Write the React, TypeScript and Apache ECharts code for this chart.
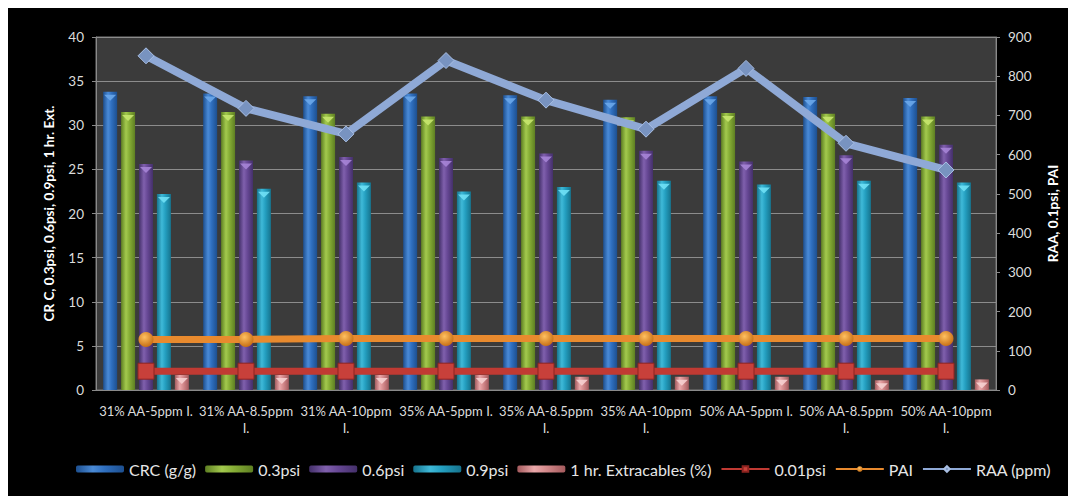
import React, { useEffect, useRef } from "react";
import * as echarts from "echarts";

// Samples and measured values
const categories = [
  "31% AA-5ppm I.",
  "31% AA-8.5ppm I.",
  "31% AA-10ppm I.",
  "35% AA-5ppm I.",
  "35% AA-8.5ppm I.",
  "35% AA-10ppm I.",
  "50% AA-5ppm I.",
  "50% AA-8.5ppm I.",
  "50% AA-10ppm I.",
];
const crc = [33.8, 33.6, 33.3, 33.6, 33.4, 32.9, 33.3, 33.2, 33.1];
const psi03 = [31.5, 31.5, 31.3, 31.0, 31.0, 30.9, 31.4, 31.3, 31.0];
const psi06 = [25.6, 26.0, 26.4, 26.3, 26.8, 27.1, 25.9, 26.6, 27.8];
const psi09 = [22.2, 22.8, 23.5, 22.5, 23.0, 23.7, 23.3, 23.7, 23.5];
const ext1hr = [1.7, 1.7, 1.7, 1.7, 1.5, 1.5, 1.5, 1.1, 1.2];
const psi001 = [48, 48, 48, 48, 48, 48, 48, 48, 48];
const pai = [129, 129, 131, 131, 131, 131, 131, 131, 131];
const raa = [852, 718, 653, 840, 739, 665, 820, 629, 561];

const leftTicks = { min: 0, max: 40, interval: 5 };
const rightTicks = { min: 0, max: 900, interval: 100 };

const FONT = "Lato, 'Liberation Sans', sans-serif";

// horizontal shading that gives each bar a rounded, cylinder look
const cyl = (dark: string, mid: string, light: string) =>
  new echarts.graphic.LinearGradient(0, 0, 1, 0, [
    { offset: 0, color: dark },
    { offset: 0.35, color: light },
    { offset: 0.6, color: mid },
    { offset: 1, color: dark },
  ]);

const barDefs = [
  { name: "CRC (g/g)", data: crc, c: ["#1d4f8f", "#2f6fbf", "#4a8ad6"], cap: "#6aa7ea" },
  { name: "0.3psi", data: psi03, c: ["#5e7f22", "#86ad36", "#a3c94e"], cap: "#c6e66e" },
  { name: "0.6psi", data: psi06, c: ["#44306a", "#674895", "#8060ad"], cap: "#a684d6" },
  { name: "0.9psi", data: psi09, c: ["#16738d", "#249fc0", "#3fb9d8"], cap: "#6fe0f5" },
  { name: "1 hr. Extracables (%)", data: ext1hr, c: ["#a45a5d", "#d48a8c", "#eaa8aa"], cap: "#f6d0d0" },
];

export default function App() {
  const ref = useRef<HTMLDivElement>(null);

  useEffect(() => {
    if (!ref.current) return;
    const chart = echarts.init(ref.current, undefined, { renderer: "svg" });

    const barSeries: any[] = barDefs.map((b) => ({
      name: b.name,
      type: "bar",
      yAxisIndex: 0,
      data: b.data,
      barWidth: 14,
      barGap: "28%",
      itemStyle: { color: cyl(b.c[0], b.c[1], b.c[2]) },
      z: 2,
    }));

    // small lighter triangles capping each bar
    const capSeries: any[] = barDefs.map((b) => ({
      name: b.name + " cap",
      type: "pictorialBar",
      yAxisIndex: 0,
      data: b.data,
      barWidth: 14,
      barGap: "28%",
      symbol: "triangle",
      symbolRotate: 180,
      symbolSize: [12, 6],
      symbolPosition: "end",
      symbolOffset: [0, "50%"],
      itemStyle: { color: b.cap, opacity: 0.9 },
      silent: true,
      z: 3,
    }));

    const lineSeries: any[] = [
      {
        name: "0.01psi",
        type: "line",
        yAxisIndex: 1,
        data: psi001,
        symbol: "rect",
        symbolSize: 16,
        lineStyle: { color: "#c03a33", width: 7 },
        itemStyle: { color: "#c8403a", borderColor: "#8e2420", borderWidth: 1 },
        z: 5,
      },
      {
        name: "PAI",
        type: "line",
        yAxisIndex: 1,
        data: pai,
        symbol: "circle",
        symbolSize: 15,
        lineStyle: { color: "#e88a2e", width: 7 },
        itemStyle: {
          color: new echarts.graphic.RadialGradient(0.4, 0.35, 0.7, [
            { offset: 0, color: "#ffc060" },
            { offset: 1, color: "#c46a10" },
          ]),
        },
        z: 6,
      },
      {
        name: "RAA (ppm)",
        type: "line",
        yAxisIndex: 1,
        data: raa,
        symbol: "diamond",
        symbolSize: 16,
        lineStyle: { color: "#8fa9d6", width: 8 },
        itemStyle: { color: "#7893c0", borderColor: "#a9bfe3", borderWidth: 1 },
        z: 7,
      },
    ];

    chart.setOption({
      animation: false,
      backgroundColor: "#000000",
      textStyle: { fontFamily: FONT },
      grid: {
        left: 88,
        right: 72,
        top: 29,
        bottom: 106,
        show: true,
        backgroundColor: "#3b3b3b",
        borderColor: "#7a7a7a",
        borderWidth: 1,
      },
      legend: {
        data: barDefs.map((b) => b.name).concat(["0.01psi", "PAI", "RAA (ppm)"]),
        bottom: 14,
        left: 63,
        itemWidth: 48,
        itemHeight: 7,
        itemGap: 9,
        textStyle: { color: "#e6e6e6", fontSize: 16, fontFamily: FONT },
      },
      xAxis: {
        type: "category",
        data: categories,
        axisLine: { lineStyle: { color: "#8a8a8a" } },
        axisTick: { show: false },
        axisLabel: {
          color: "#dcdcdc",
          fontSize: 13,
          fontFamily: FONT,
          margin: 12,
          interval: 0,
          lineHeight: 17,
          formatter: (v: string) => {
            if (v.length <= 14) return v;
            const i = v.lastIndexOf(" ");
            return v.slice(0, i) + "\n" + v.slice(i + 1);
          },
        },
      },
      yAxis: [
        {
          type: "value",
          ...leftTicks,
          name: "CR C, 0.3psi, 0.6psi, 0.9psi, 1 hr. Ext.",
          nameLocation: "middle",
          nameGap: 40,
          nameTextStyle: { color: "#ffffff", fontWeight: "bold", fontSize: 13.5, fontFamily: FONT },
          axisLine: { show: true, lineStyle: { color: "#8a8a8a" } },
          axisTick: { show: true, length: 4, lineStyle: { color: "#8a8a8a" } },
          axisLabel: { color: "#dcdcdc", fontSize: 13.5, margin: 12 },
          splitLine: { lineStyle: { color: "#8c8c8c", width: 1 } },
        },
        {
          type: "value",
          ...rightTicks,
          name: "RAA, 0.1psi, PAI",
          nameLocation: "middle",
          nameGap: 50,
          nameTextStyle: { color: "#ffffff", fontWeight: "bold", fontSize: 13.5, fontFamily: FONT },
          axisLine: { show: true, lineStyle: { color: "#8a8a8a" } },
          axisTick: { show: true, length: 4, lineStyle: { color: "#8a8a8a" } },
          axisLabel: { color: "#dcdcdc", fontSize: 13.5, margin: 12 },
          splitLine: { show: false },
        },
      ],
      series: [...barSeries, ...capSeries, ...lineSeries],
    });

    return () => chart.dispose();
  }, []);

  return <div ref={ref} style={{ width: 1060, height: 488 }} />;
}
